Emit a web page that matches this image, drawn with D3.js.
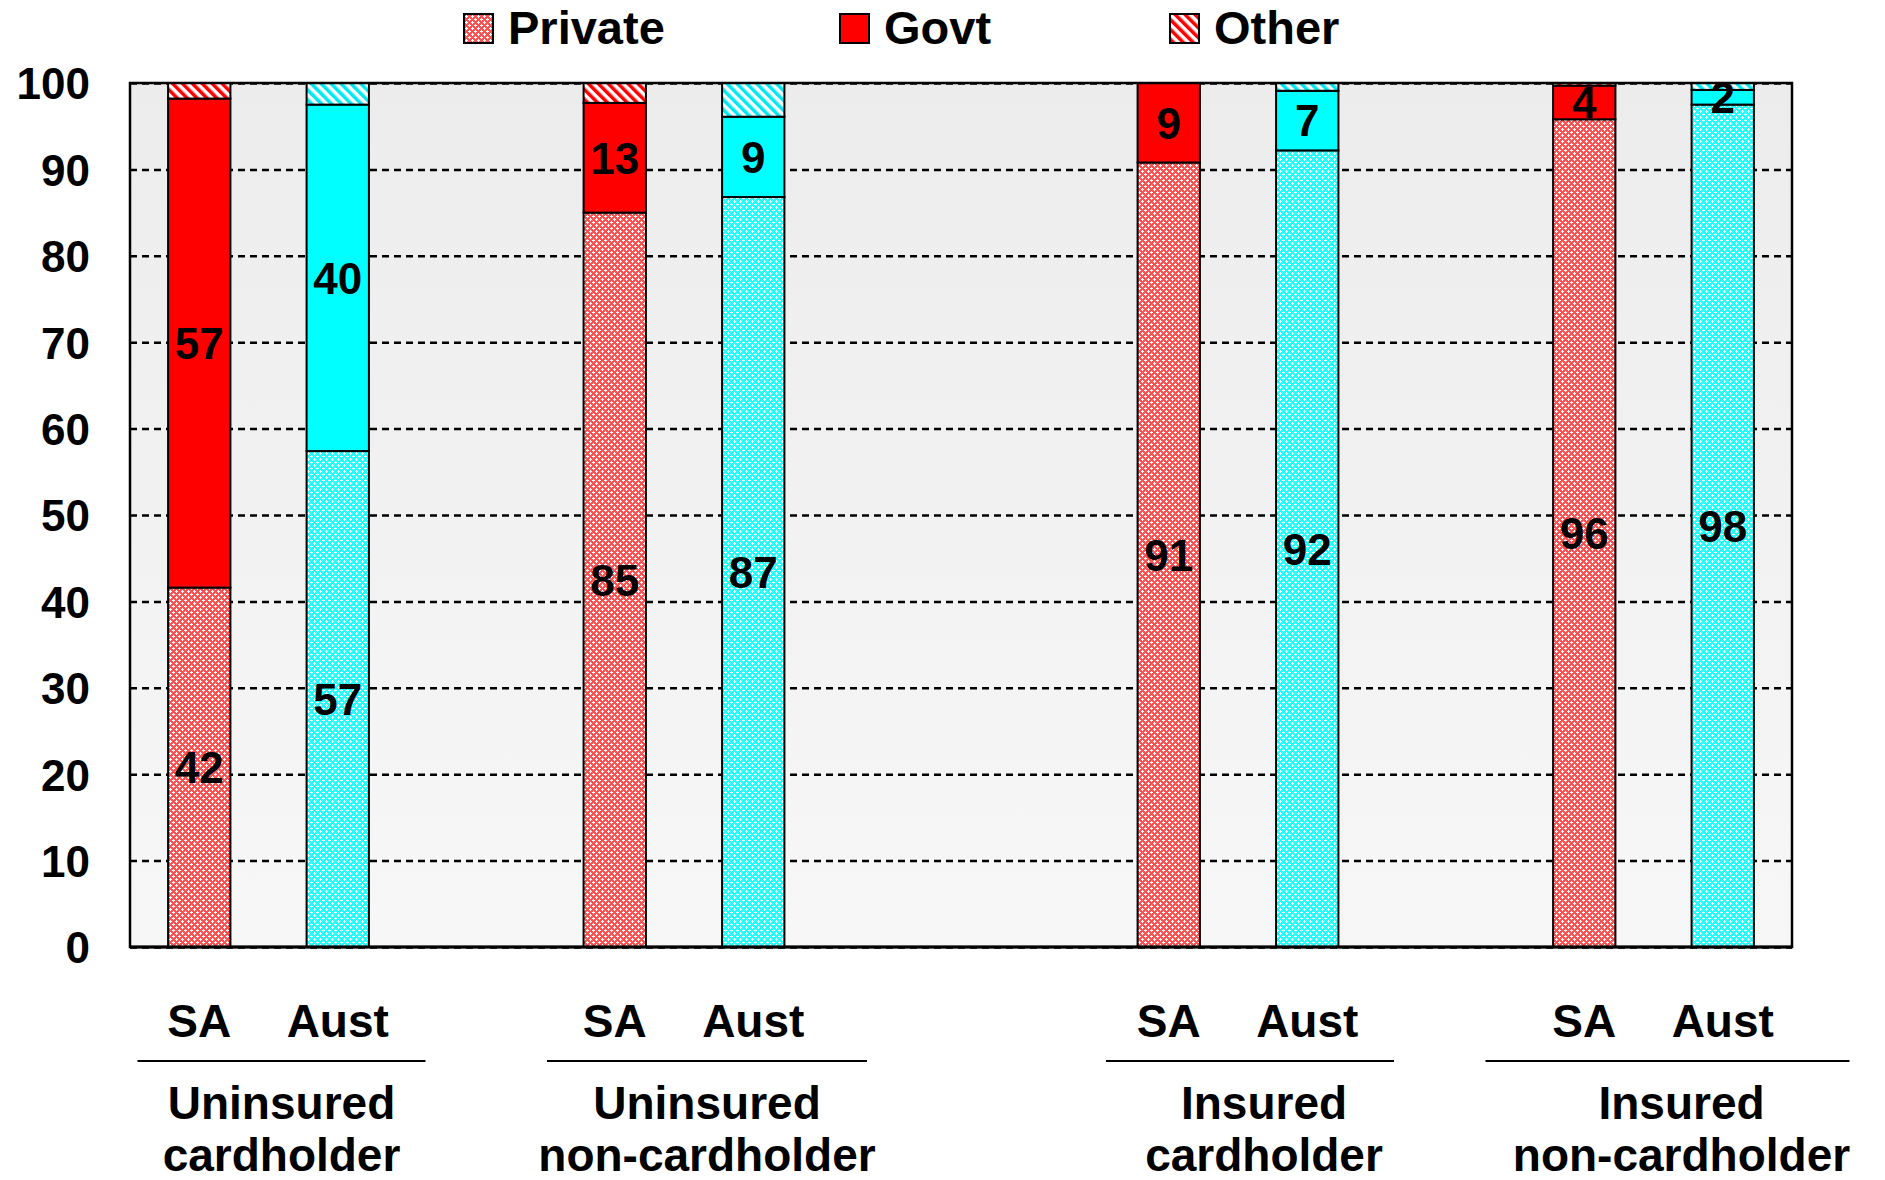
<!DOCTYPE html>
<html>
<head>
<meta charset="utf-8">
<script src="https://cdn.jsdelivr.net/npm/d3@7"></script>
<style>
  body { margin: 0; background: #fff; }
  text { font-family: "Liberation Sans", Arial, sans-serif; font-weight: bold; fill: #000; }
</style>
</head>
<body>
<script>
// chart data (12 category slots, blanks leave the gaps between groups)
const categories = ["SA", "Aust", "", "SA", "Aust", "", "", "SA", "Aust", "", "SA", "Aust"];
const privateVals = [41.6, 57.4, null, 85.0, 86.8, null, null, 90.8, 92.2, null, 95.8, 97.5];
const govtVals    = [56.6, 40.1, null, 12.7, 9.3, null, null, 9.2, 6.9, null, 3.9, 1.7];
const otherVals   = [1.8, 2.5, null, 2.3, 3.9, null, null, 0, 0.9, null, 0.3, 0.8];
const groupNames  = [["Uninsured", "cardholder"], ["Uninsured", "non-cardholder"],
                     ["Insured", "cardholder"], ["Insured", "non-cardholder"]];
const groupSlots  = [[0, 1], [3, 4], [7, 8], [10, 11]];
const seriesKeys  = ["private", "govt", "other"];
const seriesNames = ["Private", "Govt", "Other"];
const yTicks = [0, 10, 20, 30, 40, 50, 60, 70, 80, 90, 100];

// layout
const W = 1885, H = 1180;
const margin = {top: 83, right: 93, bottom: 233, left: 130};
const width = W - margin.left - margin.right;
const height = H - margin.top - margin.bottom;
const groupNudge = [13, 23, 26, 28];          // group caption offset from bar pair centre
const lineNudge = [13, 23, 12, 14];
const lineHalf = [144, 160, 144, 182];
const legendX = [464, 840, 1170];

const svg = d3.select("body").append("svg")
    .attr("width", W)
    .attr("height", H);

const defs = svg.append("defs");

// plot background gradient
const grad = defs.append("linearGradient").attr("id", "bg")
    .attr("x1", 0).attr("y1", 0).attr("x2", 0).attr("y2", 1);
grad.append("stop").attr("offset", "0%").attr("stop-color", "#ececec");
grad.append("stop").attr("offset", "100%").attr("stop-color", "#f7f7f7");

// fill patterns
function meshPattern(id, col) {
  const p = defs.append("pattern").attr("id", id)
      .attr("patternUnits", "userSpaceOnUse").attr("width", 6).attr("height", 6);
  p.append("rect").attr("width", 6).attr("height", 6).attr("fill", col);
  [[0, 1, 3, 1], [1, 0, 1, 3], [3, 4, 3, 1], [4, 3, 1, 3]].forEach(r => {
    p.append("rect").attr("x", r[0]).attr("y", r[1]).attr("width", r[2]).attr("height", r[3])
        .attr("fill", "#fff").attr("shape-rendering", "crispEdges");
  });
}
function stripePattern(id, col) {
  const p = defs.append("pattern").attr("id", id)
      .attr("patternUnits", "userSpaceOnUse").attr("width", 7).attr("height", 7)
      .attr("patternTransform", "rotate(-45)");
  p.append("rect").attr("width", 7).attr("height", 7).attr("fill", "#fff");
  p.append("rect").attr("width", 3.5).attr("height", 7).attr("fill", col);
}
meshPattern("meshRed", "#ff5252");
meshPattern("meshCyan", "#22ffff");
stripePattern("stripeRed", "#ff0000");
stripePattern("stripeCyan", "#00e8f0");

const fills = {
  SA:   {private: "url(#meshRed)", govt: "#ff0000", other: "url(#stripeRed)"},
  Aust: {private: "url(#meshCyan)", govt: "#00ffff", other: "url(#stripeCyan)"}
};

const g = svg.append("g").attr("transform", `translate(${margin.left},${margin.top})`);

// scales
const xScale = d3.scaleBand()
    .domain(d3.range(categories.length))
    .range([0, width])
    .paddingInner(0.55)
    .paddingOuter(0.275);
const yScale = d3.scaleLinear().domain([0, 100]).range([height, 0]);

g.append("rect").attr("width", width).attr("height", height).attr("fill", "url(#bg)");

// gridlines
g.append("g")
    .call(d3.axisLeft(yScale).tickValues(yTicks).tickSize(-width).tickFormat(""))
    .call(a => a.select(".domain").remove())
    .selectAll("line")
    .attr("stroke", "#000").attr("stroke-width", 2.5).attr("stroke-dasharray", "7,5");

// stacked bars
const rows = categories.map((c, i) => ({
  slot: i, region: c,
  private: privateVals[i], govt: govtVals[i], other: otherVals[i]
})).filter(d => d.private !== null);

const stacked = d3.stack().keys(seriesKeys)(rows);

stacked.forEach(layer => {
  g.append("g").selectAll("rect")
      .data(layer.filter(d => d[1] - d[0] > 0))
      .enter().append("rect")
      .attr("x", d => xScale(d.data.slot))
      .attr("width", xScale.bandwidth())
      .attr("y", d => yScale(d[1]))
      .attr("height", d => yScale(d[0]) - yScale(d[1]))
      .attr("fill", d => fills[d.data.region][layer.key])
      .attr("stroke", "#000")
      .attr("stroke-width", 2);
});

// value labels (private and govt)
stacked.filter(l => l.key !== "other").forEach(layer => {
  g.append("g").selectAll("text")
      .data(layer)
      .enter().append("text")
      .attr("x", d => xScale(d.data.slot) + xScale.bandwidth() / 2)
      .attr("y", d => yScale((d[0] + d[1]) / 2))
      .attr("dy", "0.36em")
      .attr("text-anchor", "middle")
      .style("font-size", "44px")
      .text(d => Math.round(d[1] - d[0]));
});

// plot frame
g.append("rect").attr("width", width).attr("height", height)
    .attr("fill", "none").attr("stroke", "#000").attr("stroke-width", 2.5);
g.append("line").attr("x1", 0).attr("x2", width).attr("y1", height).attr("y2", height)
    .attr("stroke", "#000").attr("stroke-width", 3);

// y axis labels
g.append("g")
    .call(d3.axisLeft(yScale).tickValues(yTicks).tickSize(0).tickPadding(40))
    .call(a => a.select(".domain").remove())
    .selectAll("text")
    .style("font-size", "44px")
    .attr("dy", "0.36em");

// SA / Aust labels
g.append("g")
    .attr("transform", `translate(0,${height})`)
    .call(d3.axisBottom(xScale).tickSize(0).tickFormat(i => categories[i]))
    .call(a => a.select(".domain").remove())
    .selectAll("text")
    .style("font-size", "46px")
    .attr("y", 90)
    .attr("dy", 0);

// group captions and separator lines
groupSlots.forEach((s, k) => {
  const cx = (xScale(s[0]) + xScale(s[1]) + xScale.bandwidth()) / 2;
  const lx = cx + lineNudge[k];
  g.append("line")
      .attr("x1", lx - lineHalf[k]).attr("x2", lx + lineHalf[k])
      .attr("y1", height + 114).attr("y2", height + 114)
      .attr("stroke", "#000").attr("stroke-width", 2);
  const t = g.append("text")
      .attr("text-anchor", "middle")
      .attr("x", cx + groupNudge[k])
      .attr("y", height + 172)
      .style("font-size", "46px");
  groupNames[k].forEach((line, j) => {
    t.append("tspan").attr("x", cx + groupNudge[k]).attr("dy", j === 0 ? 0 : 52).text(line);
  });
});

// legend
const legendFills = ["url(#meshRed)", "#ff0000", "url(#stripeRed)"];
const legend = svg.append("g");
seriesNames.forEach((name, i) => {
  legend.append("rect")
      .attr("x", legendX[i]).attr("y", 14)
      .attr("width", 29).attr("height", 29)
      .attr("fill", legendFills[i])
      .attr("stroke", "#000").attr("stroke-width", 2);
  legend.append("text")
      .attr("x", legendX[i] + 44).attr("y", 44)
      .style("font-size", "47px")
      .text(name);
});
</script>
</body>
</html>
